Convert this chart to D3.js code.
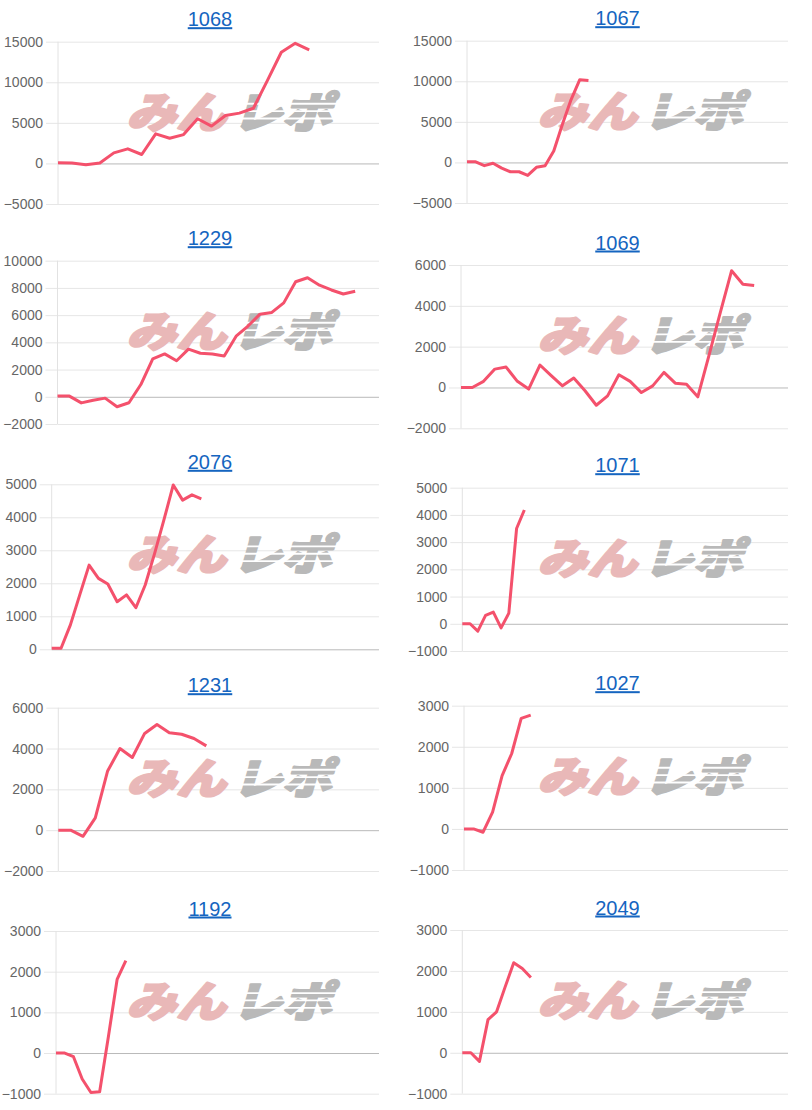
<!DOCTYPE html>
<html>
<head>
<meta charset="utf-8">
<script src="https://cdn.jsdelivr.net/npm/d3@7"></script>
<style>
  html, body { margin: 0; padding: 0; background: #fff; }
  svg { display: block; }
</style>
</head>
<body>
<svg id="chart" width="812" height="1110"></svg>
<script>
// ---- data ----
const titles = ["1068", "1067", "1229", "1069", "2076", "1071", "1231", "1027", "1192", "2049"];
const slotCounts = [24, 38, 28, 30, 36, 43, 27, 35, 38, 39];
const s1068 = [80, 50, -150, 50, 1300, 1800, 1100, 3650, 3100, 3550, 5500, 4600, 5900, 6200, 6800, 10200, 13700, 14800, 14000];
const s1067 = [80, 80, -400, -100, -700, -1150, -1150, -1600, -600, -400, 1400, 4700, 7750, 10200, 10100];
const s1229 = [50, 50, -450, -250, -100, -730, -440, 900, 2780, 3150, 2650, 3500, 3200, 3150, 3000, 4450, 5200, 6070, 6200, 6900, 8450, 8750, 8200, 7850, 7550, 7750];
const s1069 = [0, 0, 300, 900, 1000, 300, -80, 1100, 580, 80, 460, -160, -870, -410, 620, 300, -250, 80, 740, 210, 160, -460, 1580, 3680, 5720, 5060, 5000];
const s2076 = [30, 30, 740, 1650, 2550, 2150, 1980, 1440, 1650, 1260, 1950, 2900, 3920, 4980, 4520, 4680, 4560];
const s1071 = [0, 0, -270, 310, 430, -150, 390, 3500, 4180];
const s1231 = [0, 0, -300, 600, 2900, 4000, 3560, 4740, 5180, 4770, 4700, 4490, 4130];
const s1027 = [0, 0, -80, 410, 1300, 1830, 2690, 2770];
const s1192 = [0, 0, -90, -640, -970, -950, 400, 1810, 2270];
const s2049 = [0, 0, -210, 810, 1000, 1610, 2200, 2060, 1840];
const seriesList = [s1068, s1067, s1229, s1069, s2076, s1071, s1231, s1027, s1192, s2049];
const yTicks = [
  [-5000, 0, 5000, 10000, 15000],
  [-5000, 0, 5000, 10000, 15000],
  [-2000, 0, 2000, 4000, 6000, 8000, 10000],
  [-2000, 0, 2000, 4000, 6000],
  [0, 1000, 2000, 3000, 4000, 5000],
  [-1000, 0, 1000, 2000, 3000, 4000, 5000],
  [-2000, 0, 2000, 4000, 6000],
  [-1000, 0, 1000, 2000, 3000],
  [-1000, 0, 1000, 2000, 3000],
  [-1000, 0, 1000, 2000, 3000]
];

// ---- layout (panel frames) ----
const axisLeft = [58, 467, 57.5, 461, 51.7, 462.3, 58.3, 464, 56, 462.3];
const plotTops = [41.7, 40.7, 260.7, 265, 484.3, 487.7, 707.7, 705.7, 931, 930];
const plotBottoms = [204, 203, 424, 428.3, 649.3, 651, 871, 870, 1093.7, 1093.7];
const colRight = [379, 788];
const colTitleX = [210, 617.5];
const colMarkX = [228, 639];

const LINE = "#f4516c";
const svg = d3.select("#chart");

titles.forEach((title, i) => {
  const col = i % 2;
  const x0 = axisLeft[i], x1 = colRight[col];
  const top = plotTops[i], bottom = plotBottoms[i];
  const ticks = yTicks[i];
  const data = seriesList[i];

  const x = d3.scalePoint().domain(d3.range(slotCounts[i])).range([x0, x1]);
  const y = d3.scaleLinear().domain(d3.extent(ticks)).range([bottom, top]);

  const g = svg.append("g");

  // gridlines + tick marks
  const grid = g.append("g").attr("transform", `translate(${x0},0)`)
    .call(d3.axisLeft(y).tickValues(ticks).tickSize(12).tickPadding(3).tickFormat(d3.format("d")));
  grid.select(".domain").remove();
  grid.selectAll(".tick line").attr("stroke", "#e6e6e6");
  grid.selectAll(".tick").append("line")
    .attr("x1", 0).attr("x2", x1 - x0)
    .attr("stroke", d => d === 0 ? "#b9b9b9" : "#e6e6e6")
    .attr("stroke-width", 1);
  grid.selectAll(".tick text")
    .attr("fill", "#666")
    .style("font-family", "'Liberation Sans', Arial, sans-serif")
    .style("font-size", "14px");

  // y axis line
  g.append("line").attr("x1", x0).attr("x2", x0).attr("y1", top).attr("y2", bottom)
    .attr("stroke", "#e2e2e2");

  // watermark
  const mx = colMarkX[col], my = top + 86;
  const wm = g.append("g").attr("transform", `translate(${mx},${my}) skewX(-16) scale(1.08,0.92)`);
  wm.append("text").text("みん").attr("x", -2).attr("y", 0)
    .attr("text-anchor", "end").attr("fill", "#e9b8b8")
    .attr("stroke", "#e9b8b8").attr("stroke-width", 2.5).attr("stroke-linejoin", "round")
    .style("font-family", "'Noto Sans CJK JP', sans-serif").style("font-weight", 900).style("font-size", "46px");
  wm.append("text").text("レポ").attr("x", 4).attr("y", 0)
    .attr("text-anchor", "start").attr("fill", "#b9b9b9")
    .attr("stroke", "#b9b9b9").attr("stroke-width", 2.5).attr("stroke-linejoin", "round")
    .style("font-family", "'Noto Sans CJK JP', sans-serif").style("font-weight", 900).style("font-size", "46px");
  [-27, -19, -11].forEach(dy => {
    wm.append("rect").attr("x", 0).attr("y", dy).attr("width", 96).attr("height", 2).attr("fill", "#fff");
  });

  // line
  const line = d3.line().x((d, j) => x(j)).y(d => y(d));
  g.append("path").datum(data).attr("d", line)
    .attr("fill", "none").attr("stroke", LINE).attr("stroke-width", 3)
    .attr("stroke-linejoin", "round");

  // title
  g.append("text").text(title)
    .attr("x", colTitleX[col]).attr("y", top - 15.5)
    .attr("text-anchor", "middle").attr("fill", "#1565c0")
    .attr("text-decoration", "underline")
    .style("font-family", "'Liberation Sans', Arial, sans-serif").style("font-size", "20px");
});
</script>
</body>
</html>
